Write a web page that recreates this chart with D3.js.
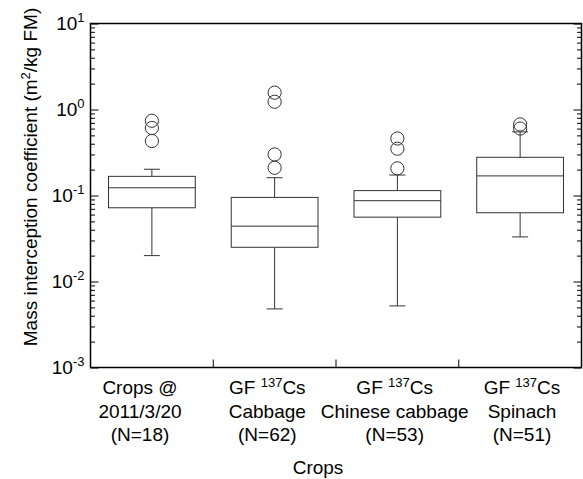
<!DOCTYPE html>
<html><head><meta charset="utf-8">
<script src="https://cdn.jsdelivr.net/npm/d3@7"></script>
<style>
html,body{margin:0;padding:0;background:#fff;}
svg{display:block;font-family:"Liberation Sans",Arial,sans-serif;}
</style></head><body>
<svg id="chart" width="583" height="479"></svg>
<script>
// Mass interception coefficient by crop group (box = quartiles, whiskers, circles = outliers)
const categories = ["crops2011", "gfCabbage", "gfChinese", "gfSpinach"];
const labelLine1 = ["Crops @", "GF ^137Cs", "GF ^137Cs", "GF ^137Cs"];
const labelLine2 = ["2011/3/20", "Cabbage", "Chinese cabbage", "Spinach"];
const labelLine3 = ["(N=18)", "(N=62)", "(N=53)", "(N=51)"];

const whiskerLow  = [0.020, 0.0048, 0.0052, 0.033];
const q1          = [0.072, 0.025, 0.056, 0.063];
const median      = [0.123, 0.044, 0.087, 0.169];
const q3          = [0.167, 0.095, 0.114, 0.278];
const whiskerHigh = [0.202, 0.161, 0.173, 0.55];
const outliers = [
  [0.74, 0.61, 0.43],
  [1.57, 1.23, 0.30, 0.21],
  [0.46, 0.35, 0.207],
  [0.67, 0.60]
];
const yExponents = [1, 0, -1, -2, -3];
const yTitle = "Mass interception coefficient (m^2/kg FM)";
const xTitle = "Crops";

const W = 583, H = 479;
const margin = {top: 23.5, right: 1.5, bottom: 111.5, left: 90.5};
const innerW = W - margin.left - margin.right;
const innerH = H - margin.top - margin.bottom;

const svg = d3.select("#chart");
const g = svg.append("g").attr("transform", `translate(${margin.left},${margin.top})`);

const x = d3.scaleBand().domain(categories).range([0, innerW]).padding(0);
const y = d3.scaleLog().domain([1e-3, 10]).range([innerH, 0]);
// label anchors for the multi-line category names
const xLab = d3.scalePoint().domain(categories).range([140 - margin.left, 522 - margin.left]);

const majors = yExponents.map(e => Math.pow(10, e));
const minors = [];
for (let e = -3; e < 1; e++) for (let m = 2; m <= 9; m++) minors.push(m * Math.pow(10, e));

// helper: write text with "^digits" as superscript
function richText(sel, str, size, supSize, rise) {
  const m = str.match(/^(.*?)\^([-\d]+)(.*)$/);
  if (!m) { sel.append("tspan").text(str); return; }
  sel.append("tspan").text(m[1]);
  sel.append("tspan").attr("font-size", supSize).attr("dy", -rise).text(m[2]);
  if (m[3]) sel.append("tspan").attr("font-size", size).attr("dy", rise).text(m[3]);
}

// left axis: inward ticks
const leftMajor = g.append("g").call(d3.axisLeft(y).tickValues(majors).tickSize(-8).tickSizeOuter(0).tickPadding(6).tickFormat(""));
const leftMinor = g.append("g").call(d3.axisLeft(y).tickValues(minors).tickSize(-4.5).tickSizeOuter(0).tickFormat(""));
const rightMajor = g.append("g").attr("transform", `translate(${innerW},0)`)
  .call(d3.axisRight(y).tickValues(majors).tickSize(-8).tickSizeOuter(0).tickFormat(""));
const rightMinor = g.append("g").attr("transform", `translate(${innerW},0)`)
  .call(d3.axisRight(y).tickValues(minors).tickSize(-4.5).tickSizeOuter(0).tickFormat(""));
[leftMajor, leftMinor, rightMajor, rightMinor].forEach(a => {
  a.select(".domain").remove();
  a.selectAll("line").attr("stroke", "#000").attr("stroke-width", 1);
});

// y tick labels as powers of ten
g.append("g").selectAll("text").data(majors).join("text")
  .attr("x", -6).attr("y", d => y(d) + 6)
  .attr("text-anchor", "end").attr("font-size", 19).attr("fill", "#000")
  .each(function(d, i) {
    const t = d3.select(this);
    t.append("tspan").text("10");
    t.append("tspan").attr("font-size", 13).attr("dy", -8).text(String(yExponents[i]));
  });

// bottom axis ticks at category boundaries (inward)
g.append("g").selectAll("line").data(categories.slice(1)).join("line")
  .attr("x1", d => x(d)).attr("x2", d => x(d))
  .attr("y1", innerH).attr("y2", innerH - 8)
  .attr("stroke", "#000").attr("stroke-width", 1);

// frame
g.append("rect").attr("x", 0).attr("y", 0).attr("width", innerW).attr("height", innerH)
  .attr("fill", "none").attr("stroke", "#000").attr("stroke-width", 1.5);

// boxes
const boxW = x.bandwidth() * 0.707;
const capW = 16;
const boxStroke = "#333";
const boxes = g.append("g").selectAll("g").data(categories).join("g")
  .attr("transform", d => `translate(${x(d) + x.bandwidth() / 2},0)`);

boxes.append("line").attr("x1", 0).attr("x2", 0)
  .attr("y1", (d, i) => y(q3[i])).attr("y2", (d, i) => y(whiskerHigh[i]))
  .attr("stroke", boxStroke);
boxes.append("line").attr("x1", 0).attr("x2", 0)
  .attr("y1", (d, i) => y(q1[i])).attr("y2", (d, i) => y(whiskerLow[i]))
  .attr("stroke", boxStroke);
boxes.append("line").attr("x1", -capW / 2).attr("x2", capW / 2)
  .attr("y1", (d, i) => y(whiskerHigh[i])).attr("y2", (d, i) => y(whiskerHigh[i]))
  .attr("stroke", boxStroke);
boxes.append("line").attr("x1", -capW / 2).attr("x2", capW / 2)
  .attr("y1", (d, i) => y(whiskerLow[i])).attr("y2", (d, i) => y(whiskerLow[i]))
  .attr("stroke", boxStroke);
boxes.append("rect").attr("x", -boxW / 2).attr("width", boxW)
  .attr("y", (d, i) => y(q3[i])).attr("height", (d, i) => y(q1[i]) - y(q3[i]))
  .attr("fill", "none").attr("stroke", boxStroke);
boxes.append("line").attr("x1", -boxW / 2).attr("x2", boxW / 2)
  .attr("y1", (d, i) => y(median[i])).attr("y2", (d, i) => y(median[i]))
  .attr("stroke", boxStroke);
boxes.each(function(d, i) {
  d3.select(this).selectAll("circle").data(outliers[i]).join("circle")
    .attr("cx", 0).attr("cy", v => y(v)).attr("r", 6.6)
    .attr("fill", "none").attr("stroke", boxStroke).attr("stroke-width", 1);
});

// category labels
const labels = g.append("g").attr("font-size", 19).attr("fill", "#000").attr("text-anchor", "middle");
categories.forEach((c, i) => {
  const cx = xLab(c);
  richText(labels.append("text").attr("x", cx).attr("y", innerH + 26.5), labelLine1[i], 19, 13, 7);
  labels.append("text").attr("x", cx).attr("y", innerH + 50.5).text(labelLine2[i]);
  labels.append("text").attr("x", cx).attr("y", innerH + 73.5).text(labelLine3[i]);
});

// axis titles
svg.append("text").attr("x", 318).attr("y", 474).attr("text-anchor", "middle")
  .attr("font-size", 19).attr("fill", "#000").text(xTitle);
const yt = svg.append("text").attr("transform", "translate(37,177) rotate(-90)")
  .attr("text-anchor", "middle").attr("font-size", 19).attr("fill", "#000");
richText(yt, yTitle, 19, 13, 7);
</script>
</body></html>
